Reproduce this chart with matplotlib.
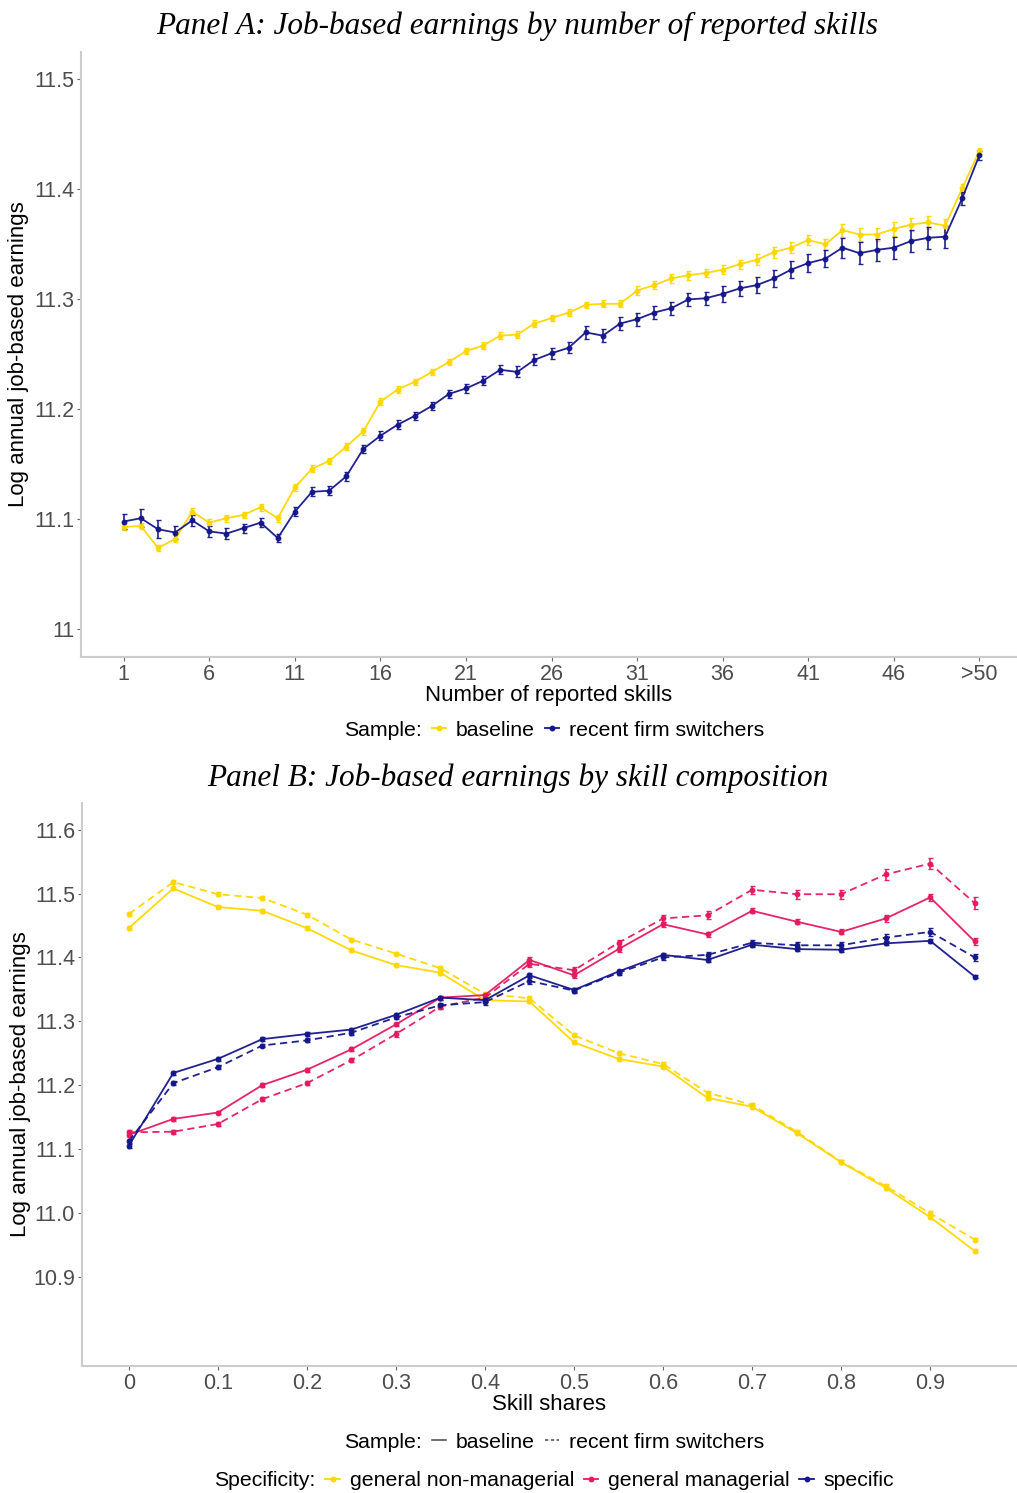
import matplotlib
matplotlib.use("Agg")
import matplotlib.pyplot as plt
from matplotlib.lines import Line2D

plt.rcParams['font.family'] = ['Liberation Sans', 'DejaVu Sans']

YELLOW = '#FFD700'
PINK = '#E5195E'
NAVY = '#15168A'
GREY_TXT = '#4D4D4D'

# ---- Panel A data: number of reported skills (51 = ">50")
skills = list(range(1, 52))
skill_ticks = [1, 6, 11, 16, 21, 26, 31, 36, 41, 46, 51]
skill_ticklabels = ['1', '6', '11', '16', '21', '26', '31', '36', '41', '46', '>50']

baseline_a = [11.093, 11.094, 11.074, 11.082, 11.107, 11.097, 11.101, 11.104, 11.111, 11.101,
              11.129, 11.146, 11.153, 11.166, 11.180, 11.207, 11.218, 11.225, 11.234, 11.243,
              11.253, 11.258, 11.267, 11.268, 11.278, 11.283, 11.288, 11.295, 11.296, 11.296,
              11.308, 11.313, 11.319, 11.322, 11.324, 11.327, 11.332, 11.336, 11.343, 11.347,
              11.354, 11.350, 11.363, 11.359, 11.359, 11.364, 11.368, 11.370, 11.367, 11.401,
              11.435]
baseline_a_err = [0.003, 0.003, 0.003, 0.003, 0.003, 0.003, 0.003, 0.003, 0.003, 0.003,
                  0.003, 0.003, 0.003, 0.003, 0.003, 0.003, 0.003, 0.003, 0.003, 0.003,
                  0.003, 0.003, 0.003, 0.003, 0.003, 0.003, 0.003, 0.003, 0.003, 0.003,
                  0.004, 0.004, 0.004, 0.004, 0.004, 0.004, 0.004, 0.005, 0.005, 0.005,
                  0.005, 0.005, 0.006, 0.006, 0.006, 0.006, 0.006, 0.006, 0.006, 0.004,
                  0.003]
switchers_a = [11.098, 11.101, 11.091, 11.088, 11.099, 11.089, 11.087, 11.092, 11.097, 11.083,
               11.107, 11.125, 11.126, 11.139, 11.164, 11.176, 11.186, 11.194, 11.203, 11.214,
               11.219, 11.226, 11.236, 11.234, 11.245, 11.251, 11.256, 11.270, 11.267, 11.278,
               11.282, 11.288, 11.292, 11.300, 11.301, 11.305, 11.310, 11.313, 11.319, 11.327,
               11.333, 11.337, 11.347, 11.342, 11.345, 11.347, 11.353, 11.356, 11.357, 11.392,
               11.431]
switchers_a_err = [0.007, 0.008, 0.008, 0.006, 0.005, 0.005, 0.005, 0.004, 0.004, 0.004,
                   0.004, 0.004, 0.004, 0.004, 0.004, 0.004, 0.004, 0.004, 0.004, 0.004,
                   0.004, 0.004, 0.004, 0.005, 0.005, 0.005, 0.005, 0.006, 0.006, 0.006,
                   0.006, 0.006, 0.006, 0.006, 0.006, 0.007, 0.007, 0.007, 0.008, 0.008,
                   0.008, 0.008, 0.009, 0.010, 0.010, 0.010, 0.010, 0.010, 0.010, 0.006,
                   0.004]

# ---- Panel B data: skill shares
shares = [0.0, 0.05, 0.1, 0.15, 0.2, 0.25, 0.3, 0.35, 0.4, 0.45,
          0.5, 0.55, 0.6, 0.65, 0.7, 0.75, 0.8, 0.85, 0.9, 0.95]
share_ticks = [0, 0.1, 0.2, 0.3, 0.4, 0.5, 0.6, 0.7, 0.8, 0.9]
share_ticklabels = ['0', '0.1', '0.2', '0.3', '0.4', '0.5', '0.6', '0.7', '0.8', '0.9']

nonman_base = [11.446, 11.508, 11.479, 11.473, 11.446, 11.411, 11.388, 11.376, 11.333, 11.331,
               11.267, 11.241, 11.229, 11.180, 11.166, 11.125, 11.079, 11.039, 10.993, 10.940]
nonman_switch = [11.468, 11.518, 11.499, 11.493, 11.467, 11.428, 11.406, 11.383, 11.343, 11.336,
                 11.278, 11.250, 11.233, 11.188, 11.169, 11.127, 11.080, 11.042, 10.999, 10.958]
man_base = [11.122, 11.147, 11.157, 11.200, 11.224, 11.256, 11.295, 11.337, 11.341, 11.396,
            11.372, 11.413, 11.452, 11.436, 11.473, 11.456, 11.440, 11.461, 11.494, 11.425]
man_switch = [11.126, 11.127, 11.139, 11.178, 11.203, 11.239, 11.280, 11.323, 11.337, 11.390,
              11.380, 11.423, 11.461, 11.466, 11.506, 11.499, 11.499, 11.530, 11.547, 11.485]
spec_base = [11.105, 11.219, 11.241, 11.272, 11.280, 11.287, 11.310, 11.337, 11.333, 11.372,
             11.349, 11.378, 11.404, 11.396, 11.420, 11.413, 11.412, 11.422, 11.426, 11.370]
spec_switch = [11.112, 11.203, 11.228, 11.262, 11.270, 11.282, 11.306, 11.325, 11.330, 11.363,
               11.348, 11.376, 11.400, 11.404, 11.423, 11.419, 11.419, 11.431, 11.440, 11.400]

err_small = [0.003] * 20
man_base_err = [0.004, 0.003, 0.003, 0.003, 0.003, 0.003, 0.003, 0.003, 0.004, 0.004,
                0.004, 0.004, 0.004, 0.004, 0.004, 0.004, 0.004, 0.005, 0.005, 0.005]
man_switch_err = [0.004, 0.003, 0.003, 0.003, 0.003, 0.003, 0.004, 0.004, 0.004, 0.005,
                  0.005, 0.005, 0.005, 0.006, 0.006, 0.007, 0.007, 0.008, 0.008, 0.009]
spec_switch_err = [0.003, 0.003, 0.003, 0.003, 0.003, 0.003, 0.003, 0.004, 0.004, 0.004,
                   0.004, 0.004, 0.004, 0.005, 0.005, 0.005, 0.005, 0.006, 0.006, 0.005]

TICK_FS = 15.5
LAB_FS = 16
LEG_FS = 15.3
TITLE_FS = 22.5


def style_axes(ax):
    for s in ['top', 'right']:
        ax.spines[s].set_visible(False)
    for s in ['left', 'bottom']:
        ax.spines[s].set_color('#CCCCCC')
        ax.spines[s].set_linewidth(1.5)
    ax.tick_params(axis='both', colors='#666666', labelcolor=GREY_TXT,
                   labelsize=TICK_FS, length=3, width=0.8, pad=2)


def pointrange(ax, x, y, err, color, ls='-'):
    ax.errorbar(x, y, yerr=err, color=color, ls=ls, lw=1.3, marker='o', ms=3.2,
                elinewidth=1.2, capsize=1.8, capthick=1.0, alpha=0.95,
                dashes=(4, 2.5) if ls == '--' else (None, None))


fig = plt.figure(figsize=(10.17, 14.93), dpi=100)

# ---------------- Panel A
axA = fig.add_axes([0.0796, 0.5601, 0.9204, 0.4051])
style_axes(axA)
pointrange(axA, skills, baseline_a, baseline_a_err, YELLOW)
pointrange(axA, skills, switchers_a, switchers_a_err, NAVY)
axA.set_xlim(-1.5, 53.2)
axA.set_ylim(10.975, 11.525)
axA.set_xticks(skill_ticks)
axA.set_xticklabels(skill_ticklabels)
axA.set_yticks([11.0, 11.1, 11.2, 11.3, 11.4, 11.5])
axA.set_yticklabels(['11', '11.1', '11.2', '11.3', '11.4', '11.5'])
axA.set_xlabel('Number of reported skills', fontsize=LAB_FS, labelpad=0)
axA.set_ylabel('Log annual job-based earnings', fontsize=LAB_FS)
axA.yaxis.set_label_coords(-0.055, 0.5)

fig.text(0.509, 1 - 26 / 1493, 'Panel A: Job-based earnings by number of reported skills',
         ha='center', va='center', fontsize=TITLE_FS, style='italic',
         family=['Liberation Serif', 'DejaVu Serif'])

blank = Line2D([], [], color='none')
hA = [blank,
      Line2D([], [], color=YELLOW, lw=1.3, marker='o', ms=3.2),
      Line2D([], [], color=NAVY, lw=1.3, marker='o', ms=3.2)]
fig.legend(hA, ['Sample:', 'baseline', 'recent firm switchers'],
           loc='center', bbox_to_anchor=(0.533, 1 - 730 / 1493), ncol=3,
           frameon=False, fontsize=LEG_FS, handlelength=0.7,
           handletextpad=0.45, columnspacing=0.45)

# ---------------- Panel B
axB = fig.add_axes([0.0806, 0.0851, 0.9194, 0.3771])
style_axes(axB)
pointrange(axB, shares, nonman_base, err_small, YELLOW)
pointrange(axB, shares, nonman_switch, err_small, YELLOW, '--')
pointrange(axB, shares, man_base, man_base_err, PINK)
pointrange(axB, shares, man_switch, man_switch_err, PINK, '--')
pointrange(axB, shares, spec_base, err_small, NAVY)
pointrange(axB, shares, spec_switch, spec_switch_err, NAVY, '--')
axB.set_xlim(-0.0526, 0.9975)
axB.set_ylim(10.76, 11.642)
axB.set_xticks(share_ticks)
axB.set_xticklabels(share_ticklabels)
axB.set_yticks([10.9, 11.0, 11.1, 11.2, 11.3, 11.4, 11.5, 11.6])
axB.set_yticklabels(['10.9', '11.0', '11.1', '11.2', '11.3', '11.4', '11.5', '11.6'])
axB.set_xlabel('Skill shares', fontsize=LAB_FS, labelpad=0)
axB.set_ylabel('Log annual job-based earnings', fontsize=LAB_FS)
axB.yaxis.set_label_coords(-0.055, 0.5)

fig.text(0.509, 1 - 778 / 1493, 'Panel B: Job-based earnings by skill composition',
         ha='center', va='center', fontsize=TITLE_FS, style='italic',
         family=['Liberation Serif', 'DejaVu Serif'])

hB1 = [blank,
       Line2D([], [], color='#555555', lw=1.2),
       Line2D([], [], color='#555555', lw=1.2, ls='--', dashes=(2, 1.5))]
fig.legend(hB1, ['Sample:', 'baseline', 'recent firm switchers'],
           loc='center', bbox_to_anchor=(0.533, 1 - 1442 / 1493), ncol=3,
           frameon=False, fontsize=LEG_FS, handlelength=0.7,
           handletextpad=0.45, columnspacing=0.45)

hB2 = [blank,
       Line2D([], [], color=YELLOW, lw=1.3, marker='o', ms=3.2),
       Line2D([], [], color=PINK, lw=1.3, marker='o', ms=3.2),
       Line2D([], [], color=NAVY, lw=1.3, marker='o', ms=3.2)]
fig.legend(hB2, ['Specificity:', 'general non-managerial', 'general managerial', 'specific'],
           loc='center', bbox_to_anchor=(0.533, 1 - 1481 / 1493), ncol=4,
           frameon=False, fontsize=LEG_FS, handlelength=0.7,
           handletextpad=0.45, columnspacing=0.45)

fig.savefig('out.png', dpi=100)
